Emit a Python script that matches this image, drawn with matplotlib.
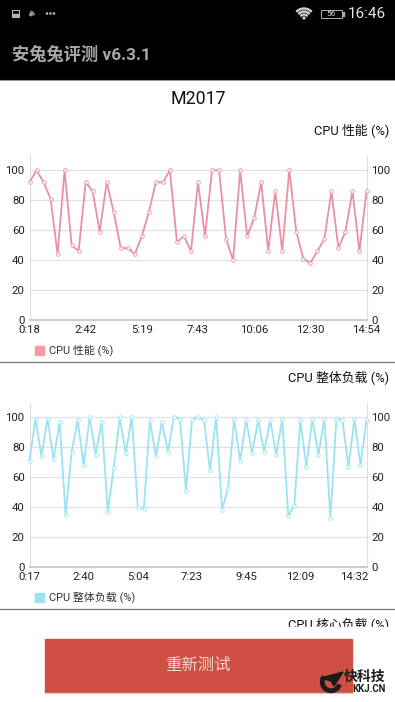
import matplotlib
matplotlib.use('Agg')
import matplotlib.pyplot as plt
from matplotlib.patches import Rectangle, Wedge, Circle, Polygon

plt.rcParams['font.family'] = ['Roboto', 'Noto Sans CJK SC', 'DejaVu Sans']

W, H = 395, 702

perf_values = [92, 100, 92, 81, 44, 100, 50, 46, 92, 86, 59, 92, 72, 48, 48, 44, 56,
               72, 92, 92, 100, 52, 56, 46, 92, 56, 100, 100, 54, 40, 100, 56, 68,
               92, 46, 86, 46, 100, 59, 41, 38, 46, 54, 86, 48, 59, 86, 46, 86]
perf_ticks = [0, 8, 16, 24, 32, 40, 48]
perf_labels = ['0:18', '2:42', '5:19', '7:43', '10:06', '12:30', '14:54']

load_values = [71, 99, 74, 99, 72, 97, 35, 77, 98, 68, 100, 75, 97, 37, 66, 100, 76,
               100, 40, 39, 98, 74, 97, 77, 100, 99, 51, 98, 100, 98, 64, 100, 38,
               53, 99, 71, 98, 76, 98, 77, 98, 75, 99, 34, 41, 98, 67, 99, 75, 99,
               33, 99, 98, 67, 99, 68, 98]
load_ticks = [0, 9, 18, 27, 36, 45, 54]
load_labels = ['0:17', '2:40', '5:04', '7:23', '9:45', '12:09', '14:32']

y_ticks = [0, 20, 40, 60, 80, 100]


def add_chart(fig, top, bottom, values, ticks, labels, line_color):
    # top and bottom are pixels from the top of the screen
    ax = fig.add_axes([29.5 / W, 1 - bottom / H, 337 / W, (bottom - top) / H])
    ax.plot(range(len(values)), values, color=line_color, lw=1.3, marker='o', ms=2.6,
            mfc='white', mec=line_color, mew=0.6, clip_on=False, zorder=3)
    ax.set_xlim(0, len(values) - 1)
    ax.set_ylim(0, 109.5)
    ax.set_xticks(ticks)
    ax.set_xticklabels(labels)
    ax.set_yticks(y_ticks)
    ax.grid(axis='y', color='#e2e2e2', lw=0.9)
    ax.set_axisbelow(True)
    ax.tick_params(length=0, labelsize=8.2, colors='#222222')
    ax.tick_params(axis='x', pad=3.6)
    ax.tick_params(axis='y', pad=3.5)
    ax.spines['top'].set_visible(False)
    ax.spines['left'].set_color('#dddddd')
    ax.spines['right'].set_color('#dddddd')
    ax.spines['bottom'].set_color('#c4c4c4')
    ax.spines['bottom'].set_linewidth(1.2)
    ax2 = ax.twinx()
    ax2.set_ylim(0, 109.5)
    ax2.set_yticks(y_ticks)
    ax2.tick_params(length=0, labelsize=8.2, colors='#222222', pad=3.5)
    for s in ax2.spines.values():
        s.set_visible(False)
    return ax


fig = plt.figure(figsize=(W / 100, H / 100), dpi=100, facecolor='white')

# screen furniture, in pixels from the top left
bg = fig.add_axes([0, 0, 1, 1])
bg.set_xlim(0, W)
bg.set_ylim(H, 0)
bg.axis('off')

bg.add_patch(Rectangle((0, 0), W, 79, color='black'))
bg.plot([0, W], [79.5, 79.5], color='#9a9a9a', lw=0.8)

# status bar
bg.add_patch(Rectangle((12, 10), 7, 6.5, fc='none', ec='#b5b5b5', lw=0.8))
bg.add_patch(Rectangle((13, 13.5), 5, 2.5, color='#b5b5b5'))
bg.add_patch(Wedge((30, 15.5), 4.5, 280, 350, width=1.2, color='#777777'))
bg.add_patch(Circle((31, 14.5), 1.2, color='#999999'))
for x in (47, 50.5, 54):
    bg.add_patch(Circle((x, 13.5), 0.6, color='#b5b5b5'))
# y axis runs downward here, so the arcs open towards 270 degrees
for r in (5, 8, 11):
    bg.add_patch(Wedge((304, 19), r, 225, 315, width=1, color='#cccccc'))
bg.add_patch(Circle((304, 18), 1, color='#cccccc'))
bg.add_patch(Rectangle((321, 9.5), 21, 8, fc='none', ec='#b0b0b0', lw=0.7))
bg.add_patch(Rectangle((342.5, 12), 1.5, 3.5, color='#b0b0b0'))
bg.text(331.5, 13.7, '56', color='#dddddd', fontsize=6, ha='center', va='center')
bg.text(386, 14.5, '16:46', color='#e6e6e6', fontsize=11, ha='right', va='center')

bg.text(12, 54, '安兔兔评测 v6.3.1', color='#a8a8a8', fontsize=12.4, fontweight='bold',
        ha='left', va='center')
bg.text(198, 98.5, 'M2017', color='#111111', fontsize=12.8, ha='center', va='center')

bg.text(389, 131, 'CPU 性能 (%)', color='#111111', fontsize=9.3, ha='right', va='center')
bg.add_patch(Rectangle((35, 346), 8.5, 8.5, color='#f59aa6'))
bg.text(49, 350.5, 'CPU 性能 (%)', color='#333333', fontsize=7.9, ha='left', va='center')
bg.plot([0, W], [361.5, 361.5], color='#777777', lw=0.9)

bg.text(389, 378, 'CPU 整体负载 (%)', color='#111111', fontsize=9.3, ha='right', va='center')
bg.add_patch(Rectangle((35, 593), 8.5, 8.5, color='#98e4f6'))
bg.text(49, 597.5, 'CPU 整体负载 (%)', color='#333333', fontsize=7.9, ha='left', va='center')
bg.plot([0, W], [608.5, 608.5], color='#777777', lw=0.9)

# next chart title is cut off by the button area
bg.text(389, 625, 'CPU 核心负载 (%)', color='#111111', fontsize=9.3, ha='right', va='center')
bg.add_patch(Rectangle((0, 626.5), W, H - 626.5, color='white', zorder=3))

bg.add_patch(Rectangle((44.5, 639), 307, 52.5, color='#cf4f42', zorder=4))
bg.plot([45, 351], [692.5, 692.5], color='#e0c8c5', lw=1, zorder=4)
bg.text(198, 665, '重新测试', color='#f2d5d0', fontsize=11.8, ha='center', va='center', zorder=5)

# watermark
bg.add_patch(Wedge((331, 682), 10.5, 20, 215, width=3.5, color='#1c1c1c', zorder=5))
bg.add_patch(Polygon([[321, 678], [343, 672], [334, 686], [331, 681]], color='#1c1c1c', zorder=6))
bg.text(385.5, 677, '快科技', color='#1c1c1c', fontsize=10, fontweight='bold', ha='right',
        va='center', zorder=6)
bg.text(385.5, 688.5, 'KKJ.CN', color='#1c1c1c', fontsize=6.9, fontweight='bold', ha='right',
        va='center', zorder=6)

add_chart(fig, 156, 320, perf_values, perf_ticks, perf_labels, '#e892a1')
add_chart(fig, 403, 567, load_values, load_ticks, load_labels, '#9be3f2')

fig.savefig('out.png', dpi=100)
